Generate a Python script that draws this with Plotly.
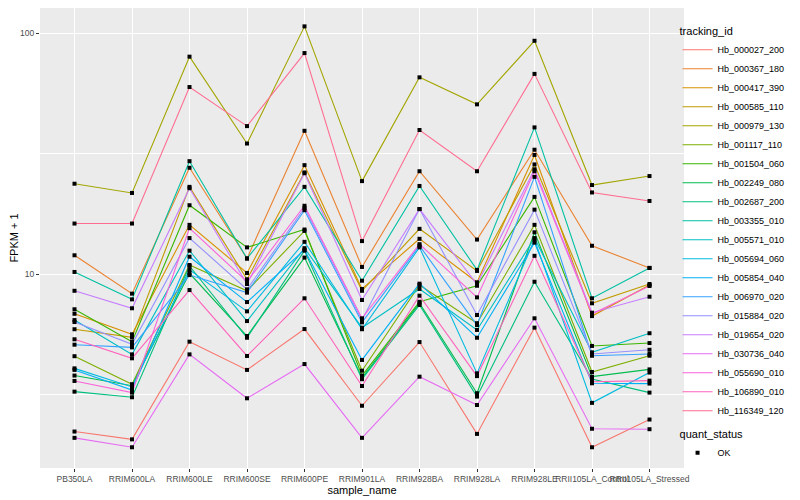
import plotly.graph_objects as go

samples = ["PB350LA", "RRIM600LA", "RRIM600LE", "RRIM600SE", "RRIM600PE", "RRIM901LA",
           "RRIM928BA", "RRIM928LA", "RRIM928LE", "RRII105LA_Control", "RRII105LA_Stressed"]

ids = ["Hb_000027_200", "Hb_000367_180", "Hb_000417_390", "Hb_000585_110", "Hb_000979_130",
       "Hb_001117_110", "Hb_001504_060", "Hb_002249_080", "Hb_002687_200", "Hb_003355_010",
       "Hb_005571_010", "Hb_005694_060", "Hb_005854_040", "Hb_006970_020", "Hb_015884_020",
       "Hb_019654_020", "Hb_030736_040", "Hb_055690_010", "Hb_106890_010", "Hb_116349_120"]

colors = ["#F8766D", "#EA8331", "#D89000", "#C09B00", "#A3A500", "#7CAE00", "#39B600", "#00BB4E",
          "#00BF7D", "#00C1A3", "#00BFC4", "#00BAE0", "#00B0F6", "#35A2FF", "#9590FF", "#C77CFF",
          "#E76BF3", "#FA62DB", "#FF62BC", "#FF6C91"]

Hb_000027_200 = [2.22, 2.06, 5.24, 4.00, 5.91, 2.84, 5.22, 2.17, 5.99, 1.91, 2.49]
Hb_000367_180 = [11.96, 8.29, 27.6, 11.6, 39.3, 10.7, 26.7, 13.9, 32.8, 13.1, 10.6]
Hb_000417_390 = [6.84, 5.62, 16.0, 10.1, 28.3, 8.67, 14.0, 9.24, 31.2, 6.69, 9.00]
Hb_000585_110 = [5.90, 5.46, 23.0, 9.51, 26.4, 8.52, 15.4, 10.3, 28.5, 7.56, 9.09]
Hb_000979_130 = [23.7, 21.7, 79.8, 34.8, 106.6, 24.3, 65.5, 50.6, 92.9, 23.4, 25.5]
Hb_001117_110 = [4.56, 3.49, 10.9, 8.52, 15.1, 3.97, 9.00, 6.25, 16.0, 3.92, 4.58]
Hb_001504_060 = [7.14, 5.24, 19.3, 12.9, 15.3, 3.79, 7.67, 8.94, 20.9, 5.03, 5.17]
Hb_002249_080 = [3.79, 3.44, 10.07, 5.53, 11.7, 3.71, 7.56, 3.20, 14.9, 3.75, 4.02]
Hb_002687_200 = [3.25, 3.08, 10.8, 5.44, 12.5, 3.66, 7.44, 3.10, 9.29, 3.67, 3.22]
Hb_003355_010 = [10.2, 7.85, 29.4, 11.6, 23.0, 9.38, 23.2, 10.4, 40.6, 7.93, 10.6]
Hb_005571_010 = [6.44, 4.64, 12.5, 6.38, 12.8, 5.99, 8.67, 5.86, 14.1, 4.73, 5.68]
Hb_005694_060 = [4.06, 3.40, 10.4, 7.00, 13.6, 5.90, 12.9, 3.87, 13.9, 2.92, 3.90]
Hb_005854_040 = [4.00, 3.30, 11.8, 7.65, 12.6, 4.40, 9.12, 5.44, 13.5, 3.52, 3.51]
Hb_006970_020 = [5.09, 4.96, 9.90, 8.37, 18.4, 6.30, 13.1, 6.14, 25.3, 4.58, 4.66]
Hb_015884_020 = [6.32, 5.11, 14.1, 8.64, 18.8, 6.44, 18.6, 6.76, 18.5, 4.66, 4.85]
Hb_019654_020 = [8.52, 7.21, 22.7, 9.09, 26.2, 7.80, 18.6, 9.06, 27.2, 6.91, 8.05]
Hb_030736_040 = [2.09, 1.91, 4.64, 3.05, 4.23, 2.09, 3.75, 2.86, 6.55, 2.28, 2.27]
Hb_055690_010 = [3.60, 3.22, 15.5, 9.29, 19.2, 6.55, 13.3, 8.00, 26.7, 6.82, 8.92]
Hb_106890_010 = [5.36, 4.47, 8.58, 4.57, 7.93, 3.43, 8.13, 3.77, 11.9, 3.57, 3.61]
Hb_116349_120 = [16.2, 16.2, 59.7, 41.1, 82.6, 13.7, 39.6, 26.7, 67.7, 21.8, 20.1]

series = [Hb_000027_200, Hb_000367_180, Hb_000417_390, Hb_000585_110, Hb_000979_130,
          Hb_001117_110, Hb_001504_060, Hb_002249_080, Hb_002687_200, Hb_003355_010,
          Hb_005571_010, Hb_005694_060, Hb_005854_040, Hb_006970_020, Hb_015884_020,
          Hb_019654_020, Hb_030736_040, Hb_055690_010, Hb_106890_010, Hb_116349_120]

FONT = "Liberation Sans, Arial, sans-serif"

fig = go.Figure()
for name, col, vals in zip(ids, colors, series):
    fig.add_trace(go.Scatter(x=samples, y=vals, mode="lines", name=name,
                             line=dict(color=col, width=1.1), legend="legend"))

px, py = [], []
for vals in series:
    px += samples
    py += vals
fig.add_trace(go.Scatter(x=px, y=py, mode="markers", name="OK",
                         marker=dict(symbol="square", size=4, color="black"),
                         legend="legend2"))

# The page body has an 8px default margin, so the figure is 8px smaller and margins shifted.
fig.update_layout(
    width=792, height=492,
    margin=dict(l=32, r=116, t=0, b=32, autoexpand=False),
    paper_bgcolor="white", plot_bgcolor="#EBEBEB",
    font=dict(family=FONT, color="#4D4D4D", size=9),
    legend=dict(title=dict(text="tracking_id", font=dict(size=11, color="black")),
                x=0.99, xanchor="left", y=0.9717, yanchor="top",
                font=dict(size=9, color="black"), bgcolor="rgba(0,0,0,0)",
                tracegroupgap=0, itemwidth=30),
    legend2=dict(title=dict(text="quant_status", font=dict(size=11, color="black")),
                 x=0.99, xanchor="left", y=0.0957, yanchor="top",
                 font=dict(size=9, color="black"), bgcolor="rgba(0,0,0,0)", itemwidth=30),
)

fig.update_xaxes(
    type="category", categoryorder="array", categoryarray=samples,
    range=[-0.6, 10.6], showgrid=True, gridcolor="white", gridwidth=1.1,
    zeroline=False, showline=False, ticks="outside", ticklen=3, tickcolor="#333333",
    tickangle=0, tickfont=dict(size=8.5, color="#4D4D4D"),
    title=dict(text="sample_name", font=dict(size=11, color="black"), standoff=2),
)
fig.update_yaxes(
    type="log", range=[0.195, 2.104], tickvals=[10, 100], ticktext=["10", "100"],
    showgrid=True, gridcolor="white", gridwidth=1.1, zeroline=False, showline=False,
    ticks="outside", ticklen=3, tickcolor="#333333",
    tickfont=dict(size=8.5, color="#4D4D4D"),
    minor=dict(tickvals=[3.1623, 31.623], showgrid=True, gridcolor="white", gridwidth=0.5, ticks=""),
    title=dict(text="FPKM + 1", font=dict(size=11, color="black"), standoff=6),
)

fig.write_html("out.html")
